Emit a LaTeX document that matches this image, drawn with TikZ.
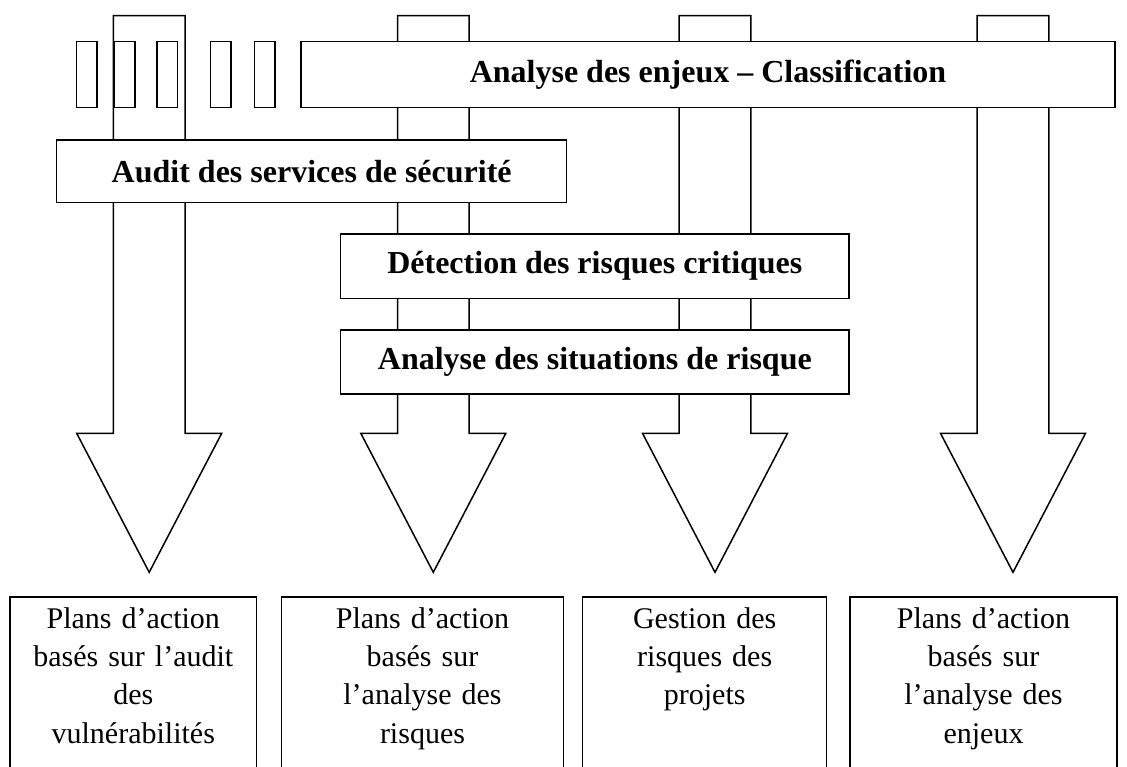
\documentclass[tikz,border=0pt]{standalone}
\usepackage{fontspec}
\setmainfont{Liberation Serif}
\begin{document}
\begin{tikzpicture}[x=1pt,y=-1pt,
  outline/.style={draw=black, line width=1.5pt, fill=white, line join=miter},
  stagebox/.style={outline, inner sep=0pt, font=\fontsize{32}{38}\selectfont\bfseries},
  planbox/.style={outline, anchor=north, inner xsep=4pt, inner ysep=0pt, align=center,
    font=\fontsize{30}{38.2}\selectfont, text height=31.7pt, text depth=180pt},
  tab/.style={outline, inner sep=0pt, minimum width=20.5pt, minimum height=66pt}]
\useasboundingbox (0,0) rectangle (1127,767);
\clip (0,0) rectangle (1127,767);

% four block arrows running from the top down to the result boxes
\newcommand\flowarrow[1]{%
  \draw[outline] (#1-35.8,15.7) -- (#1+35.8,15.7) -- (#1+35.8,433.3) -- (#1+72.5,433.3)
    -- (#1,572.3) -- (#1-72.5,433.3) -- (#1-35.8,433.3) -- cycle;}
\flowarrow{149.2}
\flowarrow{433.3}
\flowarrow{715}
\flowarrow{1013}

% stage boxes laid across the arrows
\node[stagebox, minimum width=814pt, minimum height=66pt] (enjeux) at (708,74.7)
  {Analyse des enjeux – Classification};
\node[stagebox, minimum width=510pt, minimum height=62.7pt] (audit) at (311.7,171.35)
  {Audit des services de sécurité};
\node[stagebox, minimum width=508.3pt, minimum height=64.3pt] (detection) at (594.85,266.15)
  {Détection des risques critiques};
\node[stagebox, minimum width=508.3pt, minimum height=64pt] (situations) at (594.85,362)
  {Analyse des situations de risque};

% small tabs beside the classification box
\node[tab] (tab1) at (86.7,74.7) {};
\node[tab] (tab2) at (124.5,74.7) {};
\node[tab] (tab3) at (167,74.7) {};
\node[tab] (tab4) at (220.8,74.7) {};
\node[tab] (tab5) at (264.8,74.7) {};

% result boxes
\node[planbox, text width=238.7pt] (plan1) at (133.3,596)
  {Plans d’action\\basés sur l’audit\\des\\vulnérabilités};
\node[planbox, text width=273.6pt] (plan2) at (422.5,596)
  {Plans d’action\\basés sur\\l’analyse des\\risques};
\node[planbox, text width=236pt] (plan3) at (704.7,596)
  {Gestion des\\risques des\\projets};
\node[planbox, text width=259pt] (plan4) at (983.5,596)
  {Plans d’action\\basés sur\\l’analyse des\\enjeux};
\end{tikzpicture}
\end{document}
